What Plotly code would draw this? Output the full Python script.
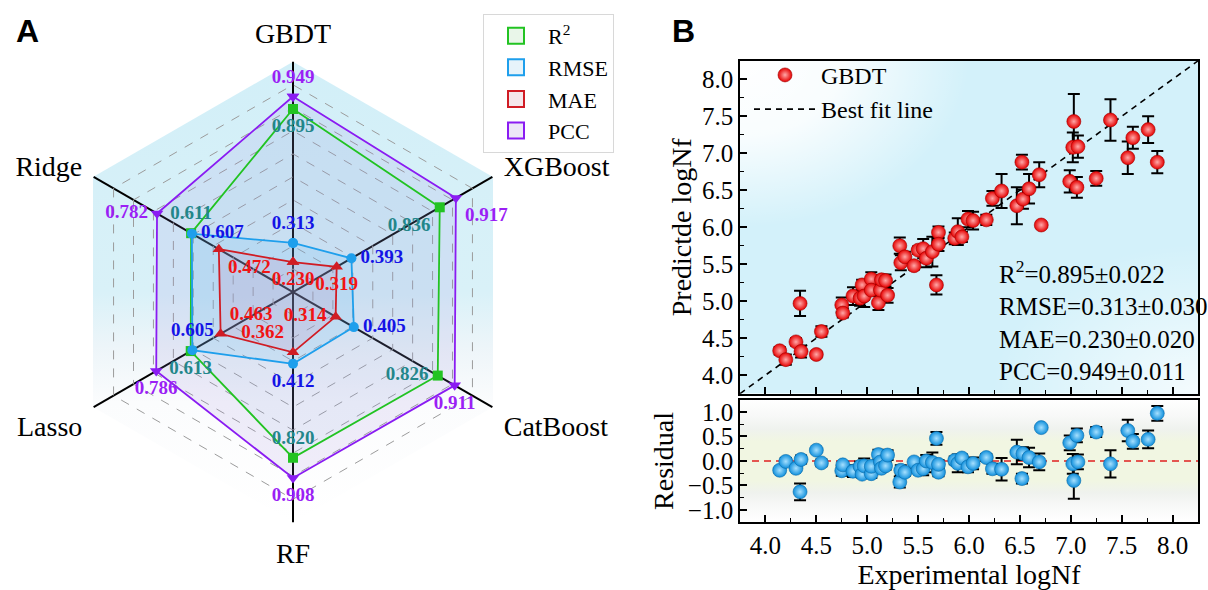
import base64
import plotly.graph_objects as go

W, H = 1208, 590
SERIF = "Liberation Serif"
SANS = "Liberation Sans"

# ---------------- data ----------------
models = ["GBDT", "XGBoost", "CatBoost", "RF", "Lasso", "Ridge"]
r2 = [0.895, 0.836, 0.826, 0.820, 0.613, 0.611]
rmse = [0.313, 0.393, 0.405, 0.412, 0.605, 0.607]
mae = [0.230, 0.319, 0.314, 0.362, 0.463, 0.472]
pcc = [0.949, 0.917, 0.911, 0.908, 0.786, 0.782]

stat_names = ["R<sup>2</sup>", "RMSE", "MAE", "PCC"]
gbdt_mean = [0.895, 0.313, 0.230, 0.949]
gbdt_std = [0.022, 0.030, 0.020, 0.011]

exp_lognf = [4.14, 4.20, 4.30, 4.34, 4.35, 4.50, 4.55, 4.75, 4.76, 4.86,
             4.93, 4.95, 4.97, 5.04, 5.04, 5.11, 5.13, 5.14, 5.18, 5.20,
             5.32, 5.33, 5.37, 5.46, 5.50, 5.55, 5.58, 5.64, 5.68, 5.70,
             5.70, 5.86, 5.89, 5.93, 5.99, 6.04, 6.17, 6.23, 6.32, 6.47,
             6.52, 6.53, 6.59, 6.69, 6.71, 6.99, 7.02, 7.03, 7.06, 7.07,
             7.25, 7.39, 7.56, 7.61, 7.76, 7.85]
pred_lognf = [4.33, 4.21, 4.45, 4.97, 4.32, 4.28, 4.59, 4.95, 4.84, 5.07,
              5.04, 5.22, 5.07, 5.30, 5.15, 4.98, 5.15, 5.29, 5.28, 5.08,
              5.75, 5.52, 5.60, 5.48, 5.69, 5.71, 5.58, 5.67, 5.22, 5.93,
              5.77, 5.85, 5.94, 5.87, 6.11, 6.09, 6.10, 6.39, 6.49, 6.29,
              6.88, 6.38, 6.52, 6.71, 6.03, 6.62, 7.08, 7.43, 6.54, 7.09,
              6.66, 7.45, 6.94, 7.21, 7.32, 6.88]
pred_err = [0.05, 0.07, 0.05, 0.17, 0.08, 0.04, 0.07, 0.10, 0.06, 0.12,
            0.10, 0.07, 0.15, 0.09, 0.07, 0.10, 0.08, 0.06, 0.08, 0.10,
            0.11, 0.10, 0.07, 0.05, 0.05, 0.13, 0.12, 0.20, 0.13, 0.08,
            0.09, 0.08, 0.18, 0.07, 0.11, 0.12, 0.07, 0.10, 0.23, 0.25,
            0.10, 0.13, 0.20, 0.17, 0.03, 0.15, 0.20, 0.37, 0.14, 0.15,
            0.10, 0.28, 0.22, 0.15, 0.18, 0.15]
residual = [round(e - p, 3) for e, p in zip(exp_lognf, pred_lognf)]
fit_line = [3.75, 8.25]
zero_line = [0.0, 0.0]

# ---------------- styles ----------------
series = [
    # name, values, line colour, marker symbol, text colour, fill, legend fill, text positions
    ("PCC", pcc, "#8a1cf2", "triangle-down", "#9b1ff5", "rgba(150,120,215,0.13)", "#ece6f7",
     ["top center", "bottom right", "bottom center", "bottom center", "bottom center", "middle left"]),
    ("R<sup>2</sup>", r2, "#22c322", "square", "#23868a", "rgba(140,200,230,0.08)", "#e9f6e9",
     ["bottom center", "bottom left", "middle left", "top center", "bottom center", "top center"]),
    ("RMSE", rmse, "#1e9fec", "circle", "#1414e6", "rgba(90,185,240,0.15)", "#e6f3fa",
     ["top center", "middle right", "middle right", "bottom center", "top center", "middle right"]),
    ("MAE", mae, "#d01c24", "triangle-up", "#f01414", "rgba(205,120,165,0.15)", "#f5e6ea",
     ["bottom center", "bottom center", "middle left", "top left", "top right", "bottom right"]),
]
legend_rank = {"R<sup>2</sup>": 1, "RMSE": 2, "MAE": 3, "PCC": 4}


def svg_uri(svg):
    return "data:image/svg+xml;base64," + base64.b64encode(svg.encode()).decode()


radar_bg = svg_uri(
    '<svg xmlns="http://www.w3.org/2000/svg" width="400" height="462" viewBox="0 0 400 462" '
    'preserveAspectRatio="none"><defs><linearGradient id="g" x1="0" y1="0" x2="0" y2="1">'
    '<stop offset="0" stop-color="#d2eff8"/><stop offset="0.5" stop-color="#d9f1f8"/>'
    '<stop offset="0.62" stop-color="#edf5f9"/><stop offset="0.74" stop-color="#fbfcfd"/>'
    '<stop offset="1" stop-color="#ffffff"/></linearGradient></defs>'
    '<polygon points="200,0 400,115.5 400,346.5 200,462 0,346.5 0,115.5" fill="url(#g)"/></svg>')

main_bg = svg_uri(
    '<svg xmlns="http://www.w3.org/2000/svg" width="458" height="334" viewBox="0 0 458 334" '
    'preserveAspectRatio="none"><defs>'
    '<radialGradient id="a" cx="0" cy="0" r="0.5"><stop offset="0" stop-color="#fff" stop-opacity="1"/>'
    '<stop offset="0.45" stop-color="#fff" stop-opacity="0.85"/><stop offset="1" stop-color="#fff" stop-opacity="0"/></radialGradient>'
    '<radialGradient id="b" cx="1" cy="1" r="0.45"><stop offset="0" stop-color="#fff" stop-opacity="0.75"/>'
    '<stop offset="1" stop-color="#fff" stop-opacity="0"/></radialGradient></defs>'
    '<rect width="458" height="334" fill="#d3f1fa"/><rect width="458" height="334" fill="url(#a)"/>'
    '<rect width="458" height="334" fill="url(#b)"/></svg>')

resid_bg = svg_uri(
    '<svg xmlns="http://www.w3.org/2000/svg" width="458" height="123" viewBox="0 0 458 123" '
    'preserveAspectRatio="none"><defs><linearGradient id="g" x1="0" y1="0" x2="0" y2="1">'
    '<stop offset="0" stop-color="#ffffff"/><stop offset="0.14" stop-color="#f7f8f7"/>'
    '<stop offset="0.24" stop-color="#eff2ee"/><stop offset="0.34" stop-color="#f1f6e2"/>'
    '<stop offset="0.66" stop-color="#f1f6e2"/><stop offset="0.76" stop-color="#eff2ee"/>'
    '<stop offset="0.86" stop-color="#f7f8f7"/><stop offset="1" stop-color="#ffffff"/>'
    '</linearGradient></defs><rect width="458" height="123" fill="url(#g)"/></svg>')

fig = go.Figure()

# ---------------- radar (panel A) ----------------
for name, vals, lc, sym, tc, fc, lfc, tpos in series:
    fig.add_trace(go.Scatterpolar(
        r=vals + [vals[0]], theta=models + [models[0]],
        mode="lines+markers", fill="toself", fillcolor=fc,
        line=dict(color=lc, width=1.8),
        marker=dict(symbol=sym, size=11 if "triangle" in sym else 10, color=lc),
        showlegend=False, hoverinfo="skip"))

for name, vals, lc, sym, tc, fc, lfc, tpos in series:
    fig.add_trace(go.Scatterpolar(
        r=vals, theta=models, mode="markers+text",
        marker=dict(size=13, color="rgba(0,0,0,0)"),
        text=[f"{v:.3f}" for v in vals], textposition=tpos,
        textfont=dict(family=SERIF, size=19, color=tc, weight="bold"),
        showlegend=False, hoverinfo="skip"))

for name, vals, lc, sym, tc, fc, lfc, tpos in sorted(series, key=lambda s: legend_rank[s[0]]):
    fig.add_trace(go.Scatterpolar(
        r=[None], theta=[None], mode="markers", name=name,
        marker=dict(symbol="square", size=16, color=lfc, line=dict(color=lc, width=2)),
        showlegend=True, legend="legend"))

# ---------------- scatter (panel B) ----------------
ball_red = dict(size=14, color="#e60000", gradient=dict(type="radial", color="#ffa8a8"),
                line=dict(width=0.6, color="#a00000"))
fig.add_trace(go.Scatter(
    x=[None], y=[None], mode="markers", name="GBDT", marker=ball_red,
    xaxis="x", yaxis="y", legend="legend2"))
fig.add_trace(go.Scatter(
    x=fit_line, y=fit_line, mode="lines", name="Best fit line",
    line=dict(color="black", width=1.6, dash="6px,5px"),
    xaxis="x", yaxis="y", legend="legend2", hoverinfo="skip"))
fig.add_trace(go.Scatter(
    x=exp_lognf, y=pred_lognf, mode="markers", name="GBDT",
    error_y=dict(type="data", array=pred_err, color="black", thickness=2, width=6),
    marker=ball_red, xaxis="x", yaxis="y", showlegend=False))

fig.add_trace(go.Scatter(
    x=fit_line, y=zero_line, mode="lines", line=dict(color="#e02020", width=1.6, dash="7px,5px"),
    xaxis="x2", yaxis="y2", showlegend=False, hoverinfo="skip"))
fig.add_trace(go.Scatter(
    x=exp_lognf, y=residual, mode="markers",
    error_y=dict(type="data", array=pred_err, color="black", thickness=2, width=6),
    marker=dict(size=14, color="#0f8fdc", gradient=dict(type="radial", color="#a6e0ff"),
                line=dict(width=0.6, color="#0a6aa8")),
    xaxis="x2", yaxis="y2", showlegend=False))

stats_text = "<br>".join(f"{n}={m:.3f}±{s:.3f}" for n, m, s in zip(stat_names, gbdt_mean, gbdt_std))

axis_common = dict(showline=True, linecolor="black", linewidth=1.6, mirror=True,
                   ticks="inside", ticklen=7, tickwidth=1.5, tickcolor="black",
                   showgrid=False, zeroline=False,
                   tickfont=dict(family=SERIF, size=25, color="black"))
minor_ticks = dict(ticks="inside", ticklen=4, dtick=0.25, tickcolor="black", tickwidth=1.2)
X0, X1 = 740, 1198

fig.update_layout(
    width=W, height=H, margin=dict(l=0, r=0, t=0, b=0),
    paper_bgcolor="white", plot_bgcolor="rgba(0,0,0,0)",
    polar=dict(
        domain=dict(x=[62 / W, 524 / W], y=[1 - 523 / H, 1 - 61 / H]),
        bgcolor="rgba(0,0,0,0)", gridshape="linear",
        radialaxis=dict(range=[0.1, 1.1], tick0=0.1, dtick=0.1, showticklabels=False,
                        ticks="", showline=False, gridcolor="#9c9c9c", griddash="dash",
                        gridwidth=1),
        angularaxis=dict(rotation=90, direction="clockwise", gridcolor="black", gridwidth=1.5,
                         showline=False, ticks="outside", ticklen=7, tickcolor="rgba(0,0,0,0)",
                         categoryorder="array", categoryarray=models,
                         tickfont=dict(family=SERIF, size=28, color="black")),
    ),
    xaxis=dict(domain=[X0 / W, X1 / W], range=[3.75, 8.25], dtick=0.5, tick0=4.0,
               showticklabels=False, matches="x2", anchor="y", minor=minor_ticks,
               **axis_common),
    yaxis=dict(domain=[1 - 394 / H, 1 - 60 / H], range=[3.75, 8.25], dtick=0.5, tick0=4.0,
               tickformat=".1f", anchor="x", minor=minor_ticks,
               title=dict(text="Predictde logNf", font=dict(family=SERIF, size=28, color="black"),
                          standoff=2),
               **axis_common),
    xaxis2=dict(domain=[X0 / W, X1 / W], range=[3.75, 8.25], dtick=0.5, tick0=4.0,
                tickformat=".1f", anchor="y2", minor=minor_ticks,
                title=dict(text="Experimental logNf", font=dict(family=SERIF, size=28, color="black"),
                           standoff=4),
                **axis_common),
    yaxis2=dict(domain=[1 - 523 / H, 1 - 400 / H], range=[-1.25, 1.25], dtick=0.5, tick0=0,
                tickformat=".1f", anchor="x2", minor=minor_ticks,
                title=dict(text="Residual", font=dict(family=SERIF, size=28, color="black"),
                           standoff=6),
                **axis_common),
    legend=dict(x=483 / W, y=1 - 13 / H, xanchor="left", yanchor="top",
                bgcolor="white", bordercolor="#d8d8d8", borderwidth=1,
                font=dict(family=SERIF, size=22, color="black"), itemwidth=54,
                tracegroupgap=0),
    legend2=dict(x=749 / W, y=1 - 52 / H, xanchor="left", yanchor="top",
                 bgcolor="rgba(0,0,0,0)", font=dict(family=SERIF, size=24, color="black"),
                 itemwidth=62, traceorder="normal"),
    images=[
        dict(source=radar_bg, xref="paper", yref="paper", x=93 / W, y=1 - 61 / H,
             sizex=400 / W, sizey=462 / H, sizing="stretch", xanchor="left", yanchor="top",
             layer="below"),
        dict(source=main_bg, xref="paper", yref="paper", x=X0 / W, y=1 - 60 / H,
             sizex=(X1 - X0) / W, sizey=334 / H, sizing="stretch", xanchor="left", yanchor="top",
             layer="below"),
        dict(source=resid_bg, xref="paper", yref="paper", x=X0 / W, y=1 - 400 / H,
             sizex=(X1 - X0) / W, sizey=123 / H, sizing="stretch", xanchor="left", yanchor="top",
             layer="below"),
    ],
    annotations=[
        dict(text="<b>A</b>", x=27 / W, y=1 - 30 / H, xref="paper", yref="paper",
             xanchor="center", yanchor="middle",
             showarrow=False, font=dict(family=SANS, size=32, color="black")),
        dict(text="<b>B</b>", x=683 / W, y=1 - 30 / H, xref="paper", yref="paper",
             xanchor="center", yanchor="middle",
             showarrow=False, font=dict(family=SANS, size=32, color="black")),
        dict(text=stats_text, x=997 / W, y=1 - 321 / H, xref="paper", yref="paper",
             xanchor="left", yanchor="middle", align="left", showarrow=False,
             font=dict(family=SERIF, size=25, color="black")),
    ],
)

fig.write_html("out.html", config={"displayModeBar": False},
               post_script="document.body.style.margin='0';document.body.style.overflow='hidden';")
